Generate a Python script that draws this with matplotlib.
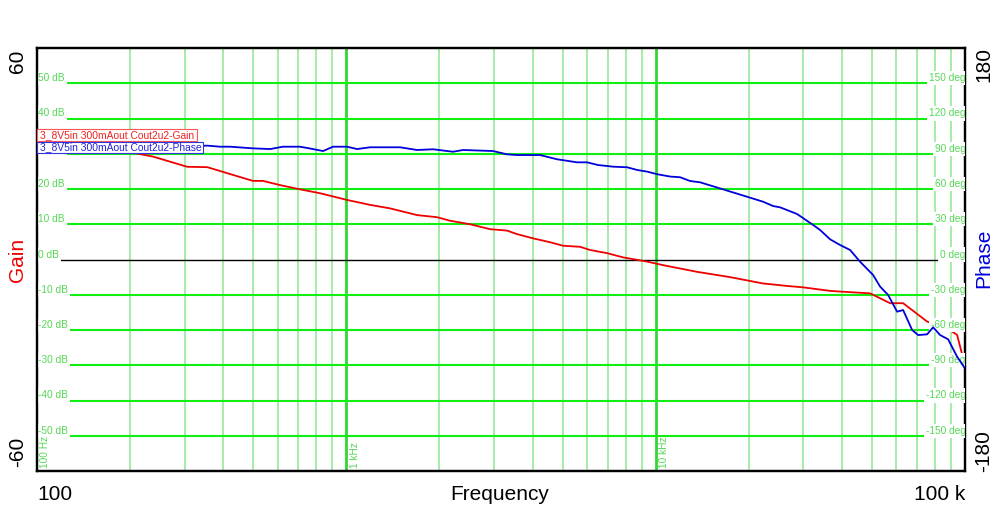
import numpy as np
import matplotlib
matplotlib.use("Agg")
import matplotlib.pyplot as plt
from matplotlib.patches import Rectangle

plt.rcParams['font.family'] = ['Liberation Sans', 'DejaVu Sans']

# Bode plot data
freq_gain = [100, 128, 160, 204, 237, 306, 355, 430, 499, 538,
             611, 709, 822, 1005, 1193, 1385, 1693, 1965, 2164, 2512,
             2915, 3308, 3564, 4014, 4557, 5019, 5696, 6137, 6965, 7846,
             9380, 10566, 13610, 17398, 22239, 26599, 29970, 36634, 39480, 49340,
             57280, 63090, 75420, 87520, 94300, 98600, 100000]
gain_db = [31.9, 31.6, 31.1, 30.3, 29.2, 26.3, 26.2, 24.0, 22.3, 22.3,
           21.1, 19.9, 18.8, 16.9, 15.5, 14.5, 12.6, 12.0, 11.0, 10.0,
           8.6, 8.2, 7.2, 6.0, 4.9, 3.9, 3.6, 2.7, 1.8, 0.6,
           -0.6, -1.6, -3.5, -5.0, -6.8, -7.5, -7.9, -8.9, -9.1, -9.6,
           -12.4, -12.4, -17.6, -19.5, -21.4, -28.0, -29.9]

freq_phase = [100, 160, 231, 355, 391, 421, 499, 567, 624, 709,
              780, 841, 906, 1005, 1083, 1193, 1492, 1693, 1907, 2213,
              2384, 2981, 3308, 3564, 4230, 4800, 5571, 6000, 6513, 7284,
              8082, 8709, 9380, 10104, 11133, 11995, 12923, 13918, 16518, 19747,
              22239, 23967, 25250, 28660, 32280, 34010, 36634, 39480, 42512, 45800,
              50460, 53160, 56420, 60330, 63090, 67460, 70550, 75420, 78880, 83100,
              88170, 94300, 100000]
phase_deg = [95.7, 95.3, 94.9, 96.9, 96.0, 96.0, 94.6, 94.0, 96.0, 96.0,
             94.0, 92.3, 96.0, 96.0, 94.0, 95.5, 95.5, 93.2, 93.8, 91.7,
             93.2, 92.3, 89.5, 88.9, 88.9, 85.3, 82.7, 82.7, 80.4, 79.0,
             78.5, 76.2, 74.8, 72.6, 70.6, 70.0, 66.8, 65.7, 59.7, 53.4,
             49.2, 45.5, 44.4, 38.7, 29.4, 25.1, 17.2, 12.3, 8.1, -1.9,
             -13.2, -23.1, -30.2, -44.4, -43.0, -60.0, -64.3, -63.7, -57.7, -64.3,
             -67.9, -82.7, -92.6]

gain_ticks = [-50, -40, -30, -20, -10, 0, 10, 20, 30, 40, 50]
phase_ticks = [-150, -120, -90, -60, -30, 0, 30, 60, 90, 120, 150]
decades = [100, 1000, 10000]
decade_labels = ['100 Hz', '1 kHz', '10 kHz']
legend_labels = ['3_8V5in 300mAout Cout2u2-Gain', '3_8V5in 300mAout Cout2u2-Phase']

label_green = '#55d855'

fig = plt.figure(figsize=(10.02, 5.2), dpi=100)
ax = fig.add_axes([37/1002, 1 - 471/520, 928/1002, 423/520])
ax.set_xscale('log')
ax.set_xlim(100, 100000)
ax.set_ylim(-60, 60)
ax.set_xticks([])
ax.set_yticks([])
ax.xaxis.set_minor_locator(matplotlib.ticker.NullLocator())

# vertical grid
for dec in decades:
    for k in range(2, 10):
        ax.axvline(dec * k, color='#a0eaa0', lw=1.3, zorder=1)
for dec in decades[1:]:
    ax.axvline(dec, color='#33d633', lw=2.0, zorder=1.5)

# horizontal grid
for g in gain_ticks:
    if g == 0:
        ax.axhline(0, color='black', lw=1.0, zorder=2)
    else:
        ax.axhline(g, color='#11ee11', lw=1.5, zorder=2)

ax2 = ax.twinx()
ax2.set_ylim(-180, 180)
ax2.set_yticks([])
for a in (ax, ax2):
    for s in a.spines.values():
        s.set_linewidth(1.6)
        s.set_color('black')

# grid labels
for g in gain_ticks:
    ax.text(101, g, f'{g} dB', fontsize=7.3, color=label_green, ha='left', va='bottom',
            zorder=3, bbox=dict(boxstyle='square,pad=0.2', fc='white', ec='none'))
for p in phase_ticks:
    ax2.text(100500, p, f'{p} deg', fontsize=7.3, color=label_green, ha='right', va='bottom',
             zorder=3, clip_on=True,
             bbox=dict(boxstyle='square,pad=0.2', fc='white', ec='none'))
for dec, lab in zip(decades, decade_labels):
    ax.text(dec * 1.025, -59.2, lab, fontsize=7.3, color=label_green, rotation=90,
            ha='left', va='bottom', zorder=3)

ax.plot(freq_gain, gain_db, color='#ee0000', lw=1.3, zorder=5)
ax2.plot(freq_phase, phase_deg, color='#0000dd', lw=1.3, zorder=6)

# legend boxes (drawn as plain rectangles so they stack like the original)
boxes = [(37, 129.5, 160, 11.5, '#ff5555', '#ee2222'),
         (37, 141.5, 166, 11.5, '#3333dd', '#2222dd')]
for (bx, by, bw, bh, ec, tc), lab in zip(boxes, legend_labels):
    fig.patches.append(Rectangle((bx/1002, 1 - (by + bh)/520), bw/1002, bh/520,
                                 transform=fig.transFigure, fc='white', ec=ec,
                                 lw=0.8, zorder=9))
    fig.text(40/1002, 1 - (by + bh/2 + 0.3)/520, lab, fontsize=7.4, color=tc,
             ha='left', va='center', zorder=10)

# outer labels
fig.text(18/1002, 1 - 61/520, '60', fontsize=15, rotation=90, ha='center', va='center')
fig.text(18/1002, 1 - 452/520, '-60', fontsize=15, rotation=90, ha='center', va='center')
fig.text(18/1002, 1 - 260/520, 'Gain', fontsize=15, rotation=90, ha='center', va='center',
         color='#ee0000')
fig.text(984/1002, 1 - 65/520, '180', fontsize=15, rotation=90, ha='center', va='center')
fig.text(984/1002, 1 - 451/520, '-180', fontsize=15, rotation=90, ha='center', va='center')
fig.text(984/1002, 1 - 258/520, 'Phase', fontsize=15, rotation=90, ha='center', va='center',
         color='#0000dd')
fig.text(55/1002, 1 - 495/520, '100', fontsize=15, ha='center', va='center')
fig.text(500/1002, 1 - 495/520, 'Frequency', fontsize=15, ha='center', va='center')
fig.text(965/1002, 1 - 495/520, '100 k', fontsize=15, ha='right', va='center')

fig.savefig('out.png', dpi=100)
